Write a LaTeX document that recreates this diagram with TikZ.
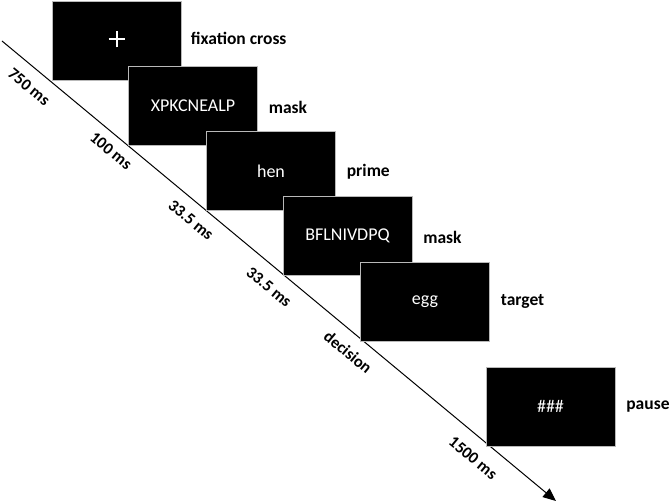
\documentclass[tikz,border=0pt]{standalone}
\usepackage{fontspec}
\setmainfont{Carlito}
\usetikzlibrary{arrows.meta}
\begin{document}
\begin{tikzpicture}[x=1pt,y=-1pt,
  screen/.style={draw=gray!55,line width=0.6pt,fill=black,minimum width=129pt,minimum height=79pt,inner sep=0pt,text=white,font=\fontsize{18}{21}\selectfont},
  lbl/.style={anchor=west,font=\bfseries\fontsize{17.5}{20}\selectfont},
  tlbl/.style={rotate=-39.7,font=\bfseries\fontsize{16.5}{19}\selectfont}]
\useasboundingbox (0,0) rectangle (669,502);
\coordinate (s) at (2,41);
\coordinate (e) at (556,501);
\draw[line width=1pt,-{Triangle[length=13pt,width=11pt]}] (s) -- (e);
\node[screen] (b1) at (116.5,41) {};
\draw[white,line width=2pt] ([xshift=-8pt,yshift=1.5pt]b1.center) -- ([xshift=8pt,yshift=1.5pt]b1.center)
  ([yshift=-6.5pt]b1.center) -- ([yshift=9.5pt]b1.center);
\node[screen] (b2) at (193,106) {XPKCNEALP};
\node[screen] (b3) at (271,171) {hen};
\node[screen] (b4) at (347.5,236) {BFLNIVDPQ};
\node[screen] (b5) at (425,301.5) {egg};
\node[screen] (b6) at (550.5,406.5) {\#\#\#};
\node[lbl] (l1) at ([xshift=6pt,yshift=3pt]b1.east) {fixation cross};
\node[lbl] (l2) at ([xshift=7.5pt,yshift=-1pt]b2.east) {mask};
\node[lbl] (l3) at ([xshift=7.5pt,yshift=-1pt]b3.east) {prime};
\node[lbl] (l4) at ([xshift=7.5pt,yshift=-1pt]b4.east) {mask};
\node[lbl] (l5) at ([xshift=7.5pt,yshift=0pt]b5.east) {target};
\node[lbl] (l6) at ([xshift=7.5pt,yshift=0pt]b6.east) {pause};
\node[tlbl] (t1) at (29,87) {750 ms};
\node[tlbl] (t2) at (111,151) {100 ms};
\node[tlbl] (t3) at (191,220) {33.5 ms};
\node[tlbl] (t4) at (269,287) {33.5 ms};
\node[tlbl] (t5) at (348,352) {decision};
\node[tlbl] (t6) at (473,458) {1500 ms};
\end{tikzpicture}
\end{document}
